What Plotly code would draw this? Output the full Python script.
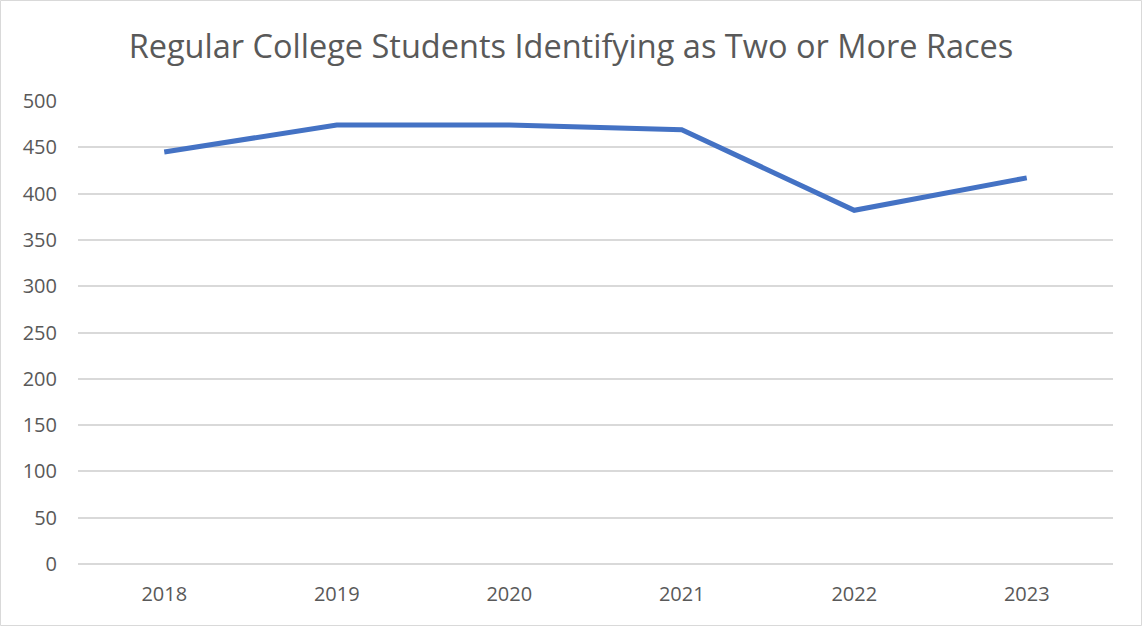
import plotly.graph_objects as go

years = ["2018", "2019", "2020", "2021", "2022", "2023"]
students = [445, 474, 474, 469, 382, 417]
y_ticks = [0, 50, 100, 150, 200, 250, 300, 350, 400, 450, 500]

W, H = 1142, 626
ml, mr, mt, mb = 78, 29, 101, 62
pw, ph = W - ml - mr, H - mt - mb

fig = go.Figure()
fig.add_trace(go.Scatter(
    x=years, y=students, mode="lines",
    line=dict(color="#4472C4", width=5),
    hoverinfo="x+y", showlegend=False,
))

fig.update_layout(
    width=W, height=H,
    margin=dict(l=ml, r=mr, t=mt, b=mb),
    paper_bgcolor="white", plot_bgcolor="white",
    font=dict(family="Open Sans", color="#595959", size=20),
    title=dict(text="Regular College Students Identifying as Two or More Races",
               x=0.5, xanchor="center", y=1 - 47 / H, yanchor="middle",
               font=dict(size=32.5, color="#595959", family="Open Sans")),
    xaxis=dict(type="category", range=[-0.5, 5.5], showgrid=False,
               showline=False, zeroline=False, ticks="", ticklabelstandoff=16,
               tickfont=dict(size=20, color="#595959")),
    yaxis=dict(range=[0, 500], tickvals=y_ticks, showgrid=True,
               gridcolor="#d9d9d9", gridwidth=1.5, zeroline=True,
               zerolinecolor="#d9d9d9", zerolinewidth=1.5, showline=False,
               ticks="", ticklabelstandoff=20,
               tickfont=dict(size=20, color="#595959")),
    shapes=[dict(type="rect", xref="paper", yref="paper",
                 x0=(0.5 - ml) / pw, x1=(W - 0.5 - ml) / pw,
                 y0=-(mb - 0.5) / ph, y1=1 + (mt - 0.5) / ph,
                 line=dict(color="#d9d9d9", width=1), layer="below")],
)

fig.write_html("out.html",
               config={"displayModeBar": False},
               post_script="document.body.style.margin='0';document.body.style.overflow='hidden';")
